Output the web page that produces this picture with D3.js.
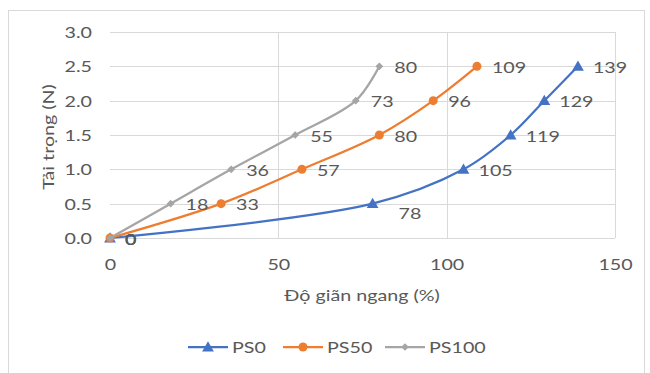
<!DOCTYPE html>
<html>
<head>
<meta charset="utf-8">
<script src="https://cdn.jsdelivr.net/npm/d3@7"></script>
<style>
  body { margin: 0; background: #fff; }
  text { font-family: Lato, "Open Sans", sans-serif; fill: #595959; }
</style>
</head>
<body>
<svg id="chart" width="650" height="373"></svg>
<script>
// Load (N) levels and the elongation (%) reached at each level, per sample
const loads = [0, 0.5, 1.0, 1.5, 2.0, 2.5];
const seriesNames = ["PS0", "PS50", "PS100"];
const ps0 = [0, 78, 105, 119, 129, 139];
const ps50 = [0, 33, 57, 80, 96, 109];
const ps100 = [0, 18, 36, 55, 73, 80];
const xTicks = [0, 50, 100, 150];
const yTicks = [0, 0.5, 1.0, 1.5, 2.0, 2.5, 3.0];
const xTitle = "Độ giãn ngang (%)";
const yTitle = "Tải trọng (N)";

const colors = { PS0: "#4472C4", PS50: "#ED7D31", PS100: "#A5A5A5" };
const series = [
  { name: seriesNames[0], values: ps0, marker: "triangle" },
  { name: seriesNames[1], values: ps50, marker: "circle" },
  { name: seriesNames[2], values: ps100, marker: "diamond" }
];

// Text is set slightly wide, like the office font the chart was styled in
const FONT = 16, WIDEN = 1.23;
function placeText(sel, px, py, rotate) {
  sel.attr("x", null).attr("y", null)
    .attr("font-size", FONT)
    .attr("transform", `translate(${px},${py})${rotate ? ` rotate(${rotate})` : ""} scale(${WIDEN},1)`);
  return sel;
}

const svg = d3.select("#chart");

// chart frame
svg.append("rect")
  .attr("x", 8.5).attr("y", 10.5).attr("width", 636).attr("height", 370)
  .attr("fill", "#fff").attr("stroke", "#d9d9d9");

const x = d3.scaleLinear().domain([0, 150]).range([110, 615]);
const y = d3.scaleLinear().domain([0, 3]).range([238, 32]);

// gridlines
const grid = svg.append("g");
grid.selectAll("line.h").data(yTicks).join("line")
  .attr("x1", x(0)).attr("x2", x(150))
  .attr("y1", d => Math.round(y(d)) + 0.5).attr("y2", d => Math.round(y(d)) + 0.5)
  .attr("stroke", "#d9d9d9");
grid.selectAll("line.v").data(xTicks.slice(1)).join("line")
  .attr("y1", y(0)).attr("y2", y(3))
  .attr("x1", d => Math.round(x(d)) + 0.5).attr("x2", d => Math.round(x(d)) + 0.5)
  .attr("stroke", "#d9d9d9");

// axes (tick labels only)
const xAxis = svg.append("g")
  .attr("transform", `translate(0,${y(0) + 26})`)
  .call(d3.axisBottom(x).tickValues(xTicks).tickSize(0).tickPadding(0));
const yAxis = svg.append("g")
  .attr("transform", `translate(${x(0) - 18},0)`)
  .call(d3.axisLeft(y).tickValues(yTicks).tickFormat(d3.format(".1f")).tickSize(0).tickPadding(0));
[xAxis, yAxis].forEach(a => {
  a.select(".domain").remove();
  a.selectAll("text").attr("fill", "#595959").style("font-family", "Lato, sans-serif");
});
xAxis.selectAll("text").each(function () { placeText(d3.select(this), 0, 0); })
  .attr("dy", "0.35em");
yAxis.selectAll("text").each(function () { placeText(d3.select(this), 0, 0); })
  .attr("dy", "0.35em");

// axis titles
placeText(svg.append("text"), 362, 301)
  .attr("text-anchor", "middle").text(xTitle);
placeText(svg.append("text"), 54, (y(0) + y(3)) / 2 + 2, -90)
  .attr("text-anchor", "middle").text(yTitle);

// markers: triangle, circle, and a square turned 45° for the diamond
const symbolFor = m => m === "triangle" ? d3.symbolTriangle : m === "circle" ? d3.symbolCircle : d3.symbolSquare;
const sizeFor = m => m === "triangle" ? 60 : m === "circle" ? 64 : 30;
const markerTransform = (m, px, py) =>
  `translate(${px},${py + (m === "triangle" ? 1 : 0)})${m === "diamond" ? " rotate(45)" : ""}`;

const line = d3.line()
  .x(d => x(d[0])).y(d => y(d[1]))
  .curve(d3.curveCatmullRom.alpha(0.5));

series.forEach(s => {
  const pts = s.values.map((v, i) => [v, loads[i]]);
  const g = svg.append("g");
  g.append("path").datum(pts)
    .attr("d", line).attr("fill", "none")
    .attr("stroke", colors[s.name]).attr("stroke-width", 2.25);
  g.selectAll("path.m").data(pts).join("path")
    .attr("class", "m")
    .attr("transform", d => markerTransform(s.marker, x(d[0]), y(d[1])))
    .attr("d", d3.symbol(symbolFor(s.marker), sizeFor(s.marker)))
    .attr("fill", colors[s.name]);
});

// data labels, drawn right of each point
series.slice().reverse().forEach(s => {
  s.values.forEach((v, i) => {
    let dx = 15, dy = 1;
    if (s.name === "PS0" && i === 1) { dx = 26; dy = 10; }
    placeText(svg.append("text"), x(v) + dx, y(loads[i]) + dy)
      .attr("dy", "0.35em")
      .text(d3.format("d")(v));
  });
});

// legend
const legendItems = [
  { name: "PS0", marker: "triangle", x0: 188 },
  { name: "PS50", marker: "circle", x0: 283 },
  { name: "PS100", marker: "diamond", x0: 385 }
];
const ly = 347;
const lg = svg.append("g");
legendItems.forEach(it => {
  lg.append("line")
    .attr("x1", it.x0).attr("x2", it.x0 + 40)
    .attr("y1", ly).attr("y2", ly)
    .attr("stroke", colors[it.name]).attr("stroke-width", 2.25);
  lg.append("path")
    .attr("transform", markerTransform(it.marker, it.x0 + 20, ly))
    .attr("d", d3.symbol(symbolFor(it.marker), sizeFor(it.marker)))
    .attr("fill", colors[it.name]);
  placeText(lg.append("text"), it.x0 + 44, ly)
    .attr("dy", "0.35em").text(it.name);
});
</script>
</body>
</html>
